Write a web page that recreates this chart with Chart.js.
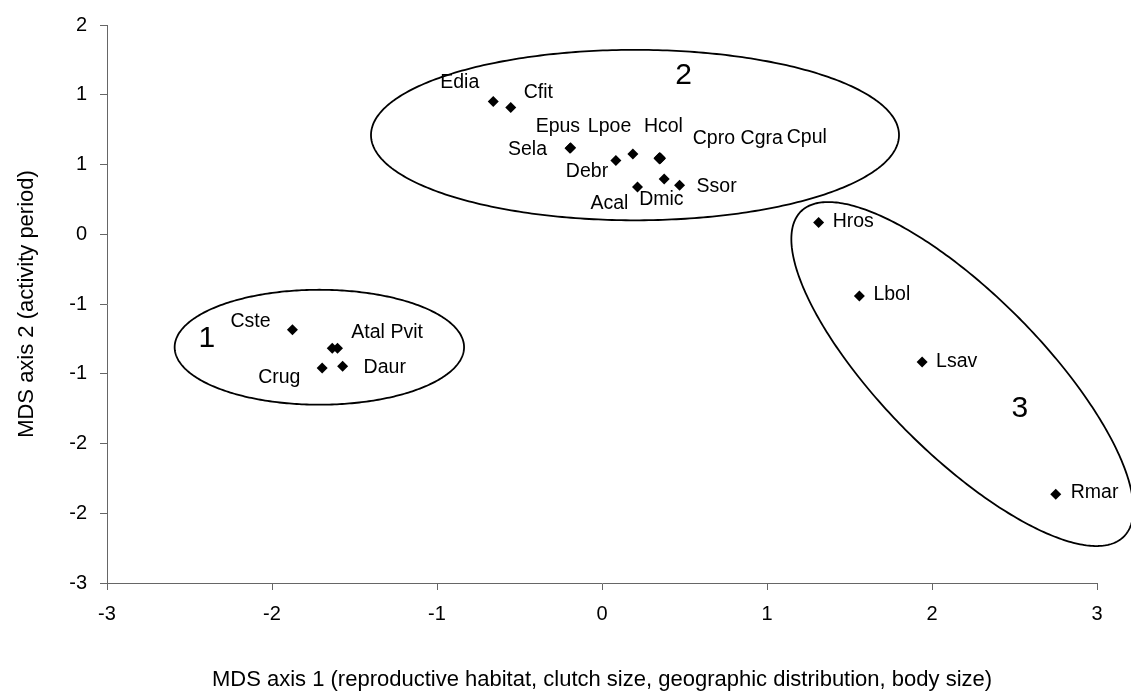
<!DOCTYPE html>
<html>
<head>
<meta charset="utf-8">
<script src="https://cdn.jsdelivr.net/npm/chart.js@4.4.0/dist/chart.umd.min.js"></script>
<style>
  body { margin: 0; background: #fff; }
  #wrap { width: 1131px; height: 698px; }
</style>
</head>
<body>
<div id="wrap"><canvas id="mdsChart" width="1131" height="698"></canvas></div>
<script>
// species codes and MDS coordinates
var species = ['Edia', 'Cfit', 'Epus', 'Sela', 'Debr', 'Lpoe', 'Hcol', 'Cpro', 'Cgra', 'Cpul', 'Acal', 'Dmic', 'Ssor',
               'Cste', 'Atal', 'Pvit', 'Crug', 'Daur',
               'Hros', 'Lbol', 'Lsav', 'Rmar'];
var axis1 = [-0.659, -0.553, -0.190, -0.194, 0.084, 0.187, 0.345, 0.350, 0.355, 0.350, 0.215, 0.377, 0.470,
             -1.876, -1.635, -1.603, -1.696, -1.572,
             1.313, 1.560, 1.940, 2.750];
var axis2 = [0.951, 0.908, 0.620, 0.617, 0.528, 0.576, 0.545, 0.540, 0.545, 0.550, 0.339, 0.396, 0.351,
             -0.684, -0.817, -0.817, -0.959, -0.947,
             0.084, -0.442, -0.916, -1.864];

var xTickLabels = ['-3', '-2', '-1', '0', '1', '2', '3'];
var yTickLabels = ['-3', '-2', '-2', '-1', '-1', '0', '1', '1', '2'];

var groupNames = ['1', '2', '3'];
var groupX = [-2.395, 0.494, 2.532];
var groupY = [-0.751, 1.133, -1.253];

// label placement (pixels from the marker: left edge, vertical middle)
var labelOffsets = {
    Edia: [-53, -19], Cfit: [13, -15], Epus: [-35, -21], Sela: [-62, 1], Debr: [-50, 11],
    Lpoe: [-45, -27], Hcol: [-15, -32], Cpro: [33, -20], Cgra: [80, -20], Cpul: [127, -20],
    Acal: [-47, 17], Dmic: [-25, 21], Ssor: [17, 1],
    Cste: [-62, -8], Atal: [19, -16], Pvit: [53, -16], Crug: [-64, 10], Daur: [21, 1],
    Hros: [14, -1], Lbol: [14, -1], Lsav: [14, 0], Rmar: [15, -2]
};

// ellipses drawn round the groups: centre and two half-axis vectors in axis units
var ellipses = [
    { c: [-1.713, -0.810], u: [0.877, 0], v: [0, 0.412] },
    { c: [0.200, 0.711], u: [1.600, 0], v: [0, 0.611] },
    { c: [2.184, -1.002], u: [0.977, -1.167], v: [-0.346, -0.398] }
];

var FONT = '"Liberation Sans", Arial, sans-serif';

var points = species.map(function(name, i) {
    return { x: axis1[i], y: axis2[i], name: name };
});

var groupPlugin = {
    id: 'groups',
    afterDatasetsDraw: function(chart) {
        var ctx = chart.ctx;
        var xs = chart.scales.x, ys = chart.scales.y;
        ctx.save();

        // ellipses
        ctx.strokeStyle = '#000';
        ctx.lineWidth = 1.8;
        ellipses.forEach(function(e) {
            ctx.beginPath();
            for (var k = 0; k <= 360; k++) {
                var t = k * Math.PI / 180;
                var px = xs.getPixelForValue(e.c[0] + e.u[0] * Math.cos(t) + e.v[0] * Math.sin(t));
                var py = ys.getPixelForValue(e.c[1] + e.u[1] * Math.cos(t) + e.v[1] * Math.sin(t));
                if (k === 0) ctx.moveTo(px, py); else ctx.lineTo(px, py);
            }
            ctx.closePath();
            ctx.stroke();
        });

        // species labels
        ctx.fillStyle = '#000';
        ctx.font = '19.5px ' + FONT;
        ctx.textAlign = 'left';
        ctx.textBaseline = 'middle';
        chart.getDatasetMeta(0).data.forEach(function(el, i) {
            var off = labelOffsets[species[i]] || [14, 0];
            ctx.fillText(species[i], el.x + off[0], el.y + off[1]);
        });

        // group numbers
        ctx.font = '30px ' + FONT;
        ctx.textAlign = 'center';
        groupNames.forEach(function(g, i) {
            ctx.fillText(g, xs.getPixelForValue(groupX[i]), ys.getPixelForValue(groupY[i]));
        });
        ctx.restore();
    }
};

var ctx = document.getElementById('mdsChart').getContext('2d');
var chart = new Chart(ctx, {
    type: 'scatter',
    data: {
        datasets: [{
            data: points,
            pointStyle: 'rectRot',
            pointRadius: 5.5,
            backgroundColor: '#000',
            borderColor: '#000',
            borderWidth: 0
        }]
    },
    options: {
        responsive: false,
        animation: false,
        layout: { padding: { top: 20, right: 34, left: 0, bottom: 0 } },
        plugins: {
            legend: { display: false },
            tooltip: { enabled: false }
        },
        scales: {
            x: {
                type: 'linear',
                min: -3,
                max: 3,
                afterFit: function(scale) { scale.height = 115; },
                ticks: {
                    stepSize: 1,
                    color: '#000',
                    padding: 12,
                    font: { family: FONT, size: 20 },
                    callback: function(value, index) { return xTickLabels[index]; }
                },
                grid: { drawOnChartArea: false, drawTicks: true, tickLength: 7, color: '#666' },
                border: { color: '#666', width: 1 },
                title: {
                    display: true,
                    text: 'MDS axis 1 (reproductive habitat, clutch size, geographic distribution, body size)',
                    color: '#000',
                    font: { family: FONT, size: 22 },
                    padding: { top: 0, bottom: 5 }
                }
            },
            y: {
                type: 'linear',
                min: -2.5,
                max: 1.5,
                afterFit: function(scale) { scale.width = 107; },
                ticks: {
                    stepSize: 0.5,
                    color: '#000',
                    padding: 13,
                    font: { family: FONT, size: 20 },
                    callback: function(value, index) { return yTickLabels[index]; }
                },
                grid: { drawOnChartArea: false, drawTicks: true, tickLength: 7, color: '#666' },
                border: { color: '#666', width: 1 },
                title: {
                    display: true,
                    text: 'MDS axis 2 (activity period)',
                    color: '#000',
                    font: { family: FONT, size: 22 },
                    padding: { top: 14, bottom: 0 }
                }
            }
        }
    },
    plugins: [groupPlugin]
});
</script>
</body>
</html>
